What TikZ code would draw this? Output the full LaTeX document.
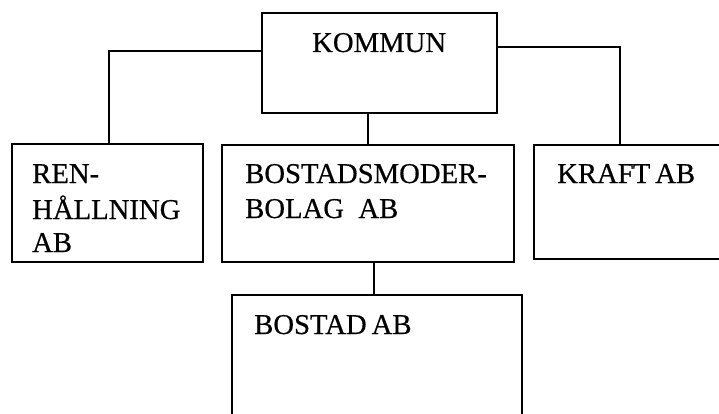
\documentclass[tikz,border=0pt]{standalone}
\usepackage{fontspec}
\setmainfont{Liberation Serif}[FakeBold=0.5]
\begin{document}
\begin{tikzpicture}[x=1pt,y=-1pt,
  orgbox/.style={draw=black, line width=1.8pt, inner sep=0pt, minimum width=#1},
  conn/.style={draw=black, line width=1.6pt},
  lbl/.style={anchor=base west, inner sep=0pt, font=\fontsize{28.7}{34}\selectfont}]
\useasboundingbox (0,0) rectangle (719,414);
\clip (0,0) rectangle (719,414);
\fill[white] (0,0) rectangle (719,414);
% boxes
\node[orgbox=235pt, minimum height=100pt] (kommun) at (379.5,63) {};
\node[orgbox=191pt, minimum height=118pt] (ren) at (107.5,203) {};
\node[orgbox=292pt, minimum height=117pt] (bsm) at (368,203.5) {};
\node[orgbox=206pt, minimum height=114pt] (kraft) at (637,202) {};
\node[orgbox=290pt, minimum height=145pt] (bostad) at (377,367.5) {};
% connectors
\draw[conn] ([yshift=-39pt]kommun.north west) -| ([xshift=1.5pt]ren.north);
\draw[conn] ([yshift=-35pt]kommun.north east) -| ([xshift=87pt]kraft.north west);
\draw[conn] (bsm.north) -- (bsm.north |- kommun.south);
\draw[conn] ([xshift=6pt]bsm.south) -- ([xshift=6pt]bsm.south |- bostad.north);
% labels
\node[lbl] (tkommun) at (312,52) {KOMMUN};
\node[lbl] (tren1) at (32,183) {REN-};
\node[lbl] (tren2) at (32,219) {HÅLLNING};
\node[lbl] (tren3) at (32,252) {AB};
\node[lbl] (tbsm1) at (245,183) {BOSTADSMODER-};
\node[lbl] (tbsm2) at (245,218) {BOLAG\ \ AB};
\node[lbl] (tkraft) at (557,183) {KRAF\kern-1pt T\hspace{5pt}AB};
\node[lbl] (tbostad) at (254,334) {BOSTAD\hspace{5pt}AB};
\end{tikzpicture}
\end{document}
